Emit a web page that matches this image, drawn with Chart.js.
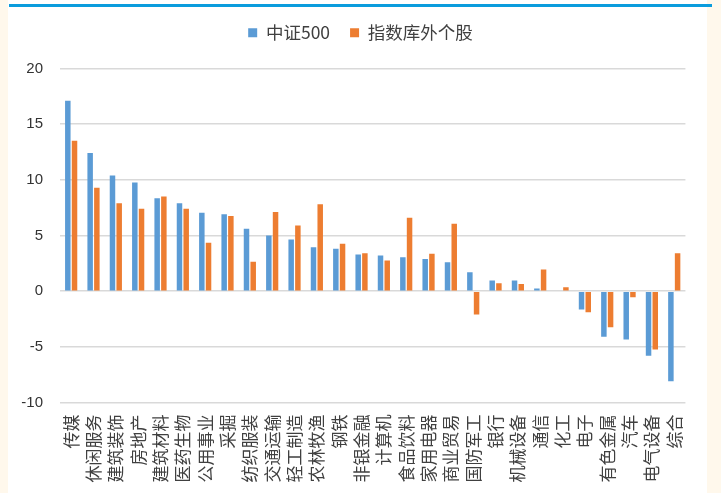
<!DOCTYPE html>
<html>
<head>
<meta charset="utf-8">
<script src="https://cdn.jsdelivr.net/npm/chart.js@4"></script>
<style>
  html, body { margin: 0; padding: 0; }
  body { width: 721px; height: 493px; background: #FFF8EC; position: relative; overflow: hidden; }
  .panel { position: absolute; left: 8px; top: 0; width: 699px; height: 493px; background: #fff; }
  .topline { position: absolute; left: 9px; top: 4px; width: 703px; height: 3px; background: #0A9CDD; }
  .box { position: absolute; left: 8px; top: 4px; width: 699px; height: 489px; }
</style>
</head>
<body>
<div class="panel"></div>
<div class="topline"></div>
<div class="box"><canvas id="c"></canvas></div>
<script>
const industries = ["传媒", "休闲服务", "建筑装饰", "房地产", "建筑材料", "医药生物", "公用事业", "采掘",
    "纺织服装", "交通运输", "轻工制造", "农林牧渔", "钢铁", "非银金融", "计算机", "食品饮料",
    "家用电器", "商业贸易", "国防军工", "银行", "机械设备", "通信", "化工", "电子",
    "有色金属", "汽车", "电气设备", "综合"];
const csi500 = [17.1, 12.4, 10.4, 9.75, 8.35, 7.9, 7.05, 6.9,
    5.6, 5.0, 4.65, 3.95, 3.8, 3.3, 3.2, 3.05,
    2.9, 2.6, 1.7, 0.95, 0.95, 0.25, 0.0, -1.65,
    -4.1, -4.35, -5.8, -8.1];
const outside = [13.5, 9.3, 7.9, 7.4, 8.5, 7.4, 4.35, 6.75,
    2.65, 7.1, 5.9, 7.8, 4.25, 3.4, 2.75, 6.6,
    3.35, 6.05, -2.1, 0.7, 0.65, 1.95, 0.35, -1.9,
    -3.25, -0.55, -5.25, 3.4];
const yTicks = [-10, -5, 0, 5, 10, 15, 20];

// extra room under the legend, and nudge it right to sit over the page centre
const legendGap = {
    id: "legendGap",
    beforeInit(chart) {
        const fit = chart.legend.fit;
        chart.legend.fit = function () {
            fit.bind(chart.legend)();
            this.height += 17;
        };
    },
    afterLayout(chart) {
        chart.legend.left += 13;
        chart.legend.right += 13;
    }
};

new Chart(document.getElementById("c"), {
    type: "bar",
    data: {
        labels: industries,
        datasets: [
            { label: "中证500", data: csi500, backgroundColor: "#5B9BD5" },
            { label: "指数库外个股", data: outside, backgroundColor: "#ED7D31" }
        ]
    },
    options: {
        responsive: true,
        maintainAspectRatio: false,
        animation: false,
        categoryPercentage: 0.6,
        barPercentage: 0.82,
        layout: { padding: { left: 0, right: 20, top: 0, bottom: 0 } },
        plugins: {
            legend: {
                position: "top",
                labels: {
                    boxWidth: 9,
                    boxHeight: 9,
                    padding: 20,
                    color: "#404040",
                    font: { family: "'Noto Sans CJK SC', 'Noto Sans'", size: 17.5 }
                }
            },
            tooltip: { enabled: false }
        },
        scales: {
            x: {
                grid: { display: false, drawTicks: false },
                border: { display: false },
                ticks: {
                    autoSkip: false,
                    maxRotation: 90,
                    minRotation: 90,
                    padding: 12,
                    color: "#404040",
                    font: { family: "'Noto Sans CJK SC'", size: 17 }
                },
                afterFit(scale) { scale.height = 90.5; }
            },
            y: {
                min: -10,
                max: 20,
                afterBuildTicks(scale) { scale.ticks = yTicks.map(v => ({ value: v })); },
                grid: { color: "#D9D9D9", lineWidth: 1.5, drawTicks: false },
                border: { display: false },
                ticks: {
                    padding: 17,
                    color: "#333333",
                    font: { family: "'Liberation Sans'", size: 15 }
                },
                afterFit(scale) { scale.width = 52; }
            }
        }
    },
    plugins: [legendGap]
});
</script>
</body>
</html>
